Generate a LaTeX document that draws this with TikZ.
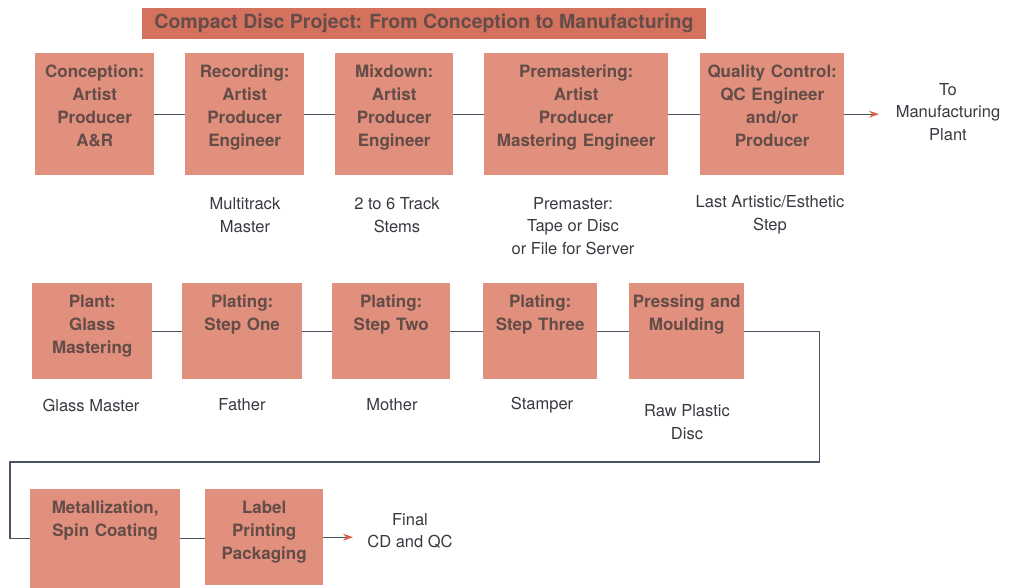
\documentclass[tikz,border=0pt]{standalone}
\usepackage{fontspec}
\setmainfont{TeX Gyre Heros}
\usepackage{xcolor}
\usepackage{tikz}
\usetikzlibrary{arrows.meta}
\definecolor{stagefill}{RGB}{224,144,124}
\definecolor{titlefill}{RGB}{212,114,94}
\definecolor{stagetext}{RGB}{100,76,72}
\definecolor{linkgray}{RGB}{72,84,98}
\definecolor{arrowred}{RGB}{214,98,74}
\definecolor{notegray}{RGB}{55,58,64}
\begin{document}
\begin{tikzpicture}[x=1pt,y=-1pt,
stage/.style={fill=stagefill,text=stagetext,anchor=north west,inner sep=0pt,align=center,
  font=\fontsize{17}{23}\selectfont\bfseries,text height=24pt},
note/.style={text=notegray,align=center,font=\fontsize{16.5}{22.5}\selectfont},
link/.style={draw=linkgray,line width=1.2pt},
flow/.style={link,-{Stealth[length=10pt,width=7pt,color=arrowred]}}]
\useasboundingbox (0,0) rectangle (1017,588);
\node[fill=titlefill,text=stagetext,minimum width=564pt,minimum height=31pt,inner sep=0pt,
  font=\fontsize{19.5}{20}\selectfont\bfseries](title) at (424,23.5)
  {Compact Disc Project: From Conception to Manufacturing};
\node[stage,text width=119pt,text depth=98pt](concep) at (35,53){Conception:\\Artist\\Producer\\A\&R};
\node[stage,text width=119pt,text depth=98pt](record) at (185,53){Recording:\\Artist\\Producer\\Engineer};
\node[stage,text width=118pt,text depth=98pt](mixdown) at (335,53){Mixdown:\\Artist\\Producer\\Engineer};
\node[stage,text width=184pt,text depth=98pt](premast) at (484,53){Premastering:\\Artist\\Producer\\Mastering Engineer};
\node[stage,text width=144pt,text depth=98pt](qc) at (700,53){Quality Control:\\QC Engineer\\and/or\\Producer};
\coordinate(mfgend) at (879,110);
\node[note](tomfg) at (948,112){To\\Manufacturing\\Plant};
\draw[link](concep)--(record) (record)--(mixdown) (mixdown)--(premast) (premast)--(qc);
\draw[flow](qc.east)--(qc.east-|mfgend);
\node[note](multi) at (245,215){Multitrack\\Master};
\node[note](stems) at (397,215){2 to 6 Track\\Stems};
\node[note](premaster) at (573,226){Premaster:\\Tape or Disc\\or File for Server};
\node[note](laststep) at (770,215){Last Artistic/Esthetic\\Step};
\node[stage,text width=120pt,text depth=72pt](glass) at (32,283){Plant:\\Glass\\Mastering};
\node[stage,text width=120pt,text depth=72pt](plate1) at (182,283){Plating:\\Step One};
\node[stage,text width=118pt,text depth=72pt](plate2) at (332,283){Plating:\\Step Two};
\node[stage,text width=114pt,text depth=72pt](plate3) at (483,283){Plating:\\Step Three};
\node[stage,text width=115pt,text depth=72pt](press) at (629,283){Pressing and\\Moulding};
\draw[link](glass)--(plate1) (plate1)--(plate2) (plate2)--(plate3) (plate3)--(press);
\node[note](glassm) at (91,405){Glass Master};
\node[note](father) at (242,405){Father};
\node[note](mother) at (392,405){Mother};
\node[note](stamper) at (542,405){Stamper};
\node[note](rawdisc) at (687,422){Raw Plastic\\Disc};
\node[stage,text width=150pt,text depth=75pt](metal) at (30,489){Metallization,\\Spin Coating};
\node[stage,text width=118pt,text depth=72pt](labelpk) at (205,489){Label\\Printing\\Packaging};
\draw[link](press.east)--++(75,0)|-(10,462)|-(metal.west);
\draw[link](metal.east)--(metal.east-|labelpk.west);
\coordinate(cdend) at (353,537);
\node[note](final) at (410,531){Final\\CD and QC};
\draw[flow](labelpk.east)--(labelpk.east-|cdend);
\end{tikzpicture}
\end{document}
